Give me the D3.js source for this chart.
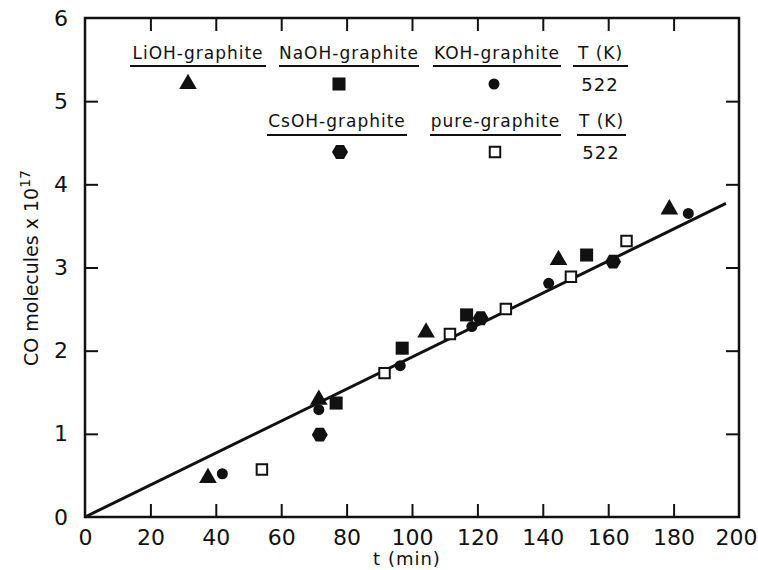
<!DOCTYPE html>
<html>
<head>
<meta charset="utf-8">
<script src="https://cdn.jsdelivr.net/npm/d3@7"></script>
<style>
  body { margin: 0; background: #fff; }
  text { font-family: "DejaVu Sans", sans-serif; fill: #111; }
</style>
</head>
<body>
<div id="target_area"></div>
<script>
// data (t in min, CO molecules x 1e17)
var liohT = [37.6, 71.5, 104.3, 144.8, 178.7];
var liohN = [0.47, 1.41, 2.22, 3.09, 3.70];
var naohT = [76.8, 97.0, 116.7, 153.4];
var naohN = [1.37, 2.03, 2.43, 3.15];
var kohT = [42.0, 71.5, 96.4, 118.3, 141.8, 184.5];
var kohN = [0.52, 1.29, 1.82, 2.29, 2.81, 3.65];
var csohT = [71.8, 121.0, 161.5];
var csohN = [0.99, 2.39, 3.07];
var pureT = [54.1, 91.6, 111.6, 128.7, 148.6, 165.6];
var pureN = [0.57, 1.73, 2.20, 2.50, 2.89, 3.32];

// fitted line
var fitT = [0, 196];
var fitN = [0, 3.77];

var xTicks = [0, 20, 40, 60, 80, 100, 120, 140, 160, 180, 200];
var yTicks = [0, 1, 2, 3, 4, 5, 6];
var legendRow1 = ["LiOH-graphite", "NaOH-graphite", "KOH-graphite", "T (K)"];
var legendRow2 = ["CsOH-graphite", "pure-graphite", "T (K)"];
var tempValue = "522";

var width = 758, height = 570;
var margin = {top: 18, right: 19, bottom: 53, left: 85};

var svg = d3.select("#target_area")
  .append("svg")
  .attr("width", width)
  .attr("height", height);

var x = d3.scaleLinear().domain([0, 200]).range([margin.left, width - margin.right]);
var y = d3.scaleLinear().domain([0, 6]).range([height - margin.bottom, margin.top]);

var inner = xTicks.slice(1, -1);
var innerY = yTicks.slice(1, -1);

// bottom axis with labels, ticks pointing in
var gb = svg.append("g")
  .attr("transform", "translate(0," + y(0) + ")")
  .call(d3.axisBottom(x).tickValues(xTicks).tickFormat(d3.format("d")).tickSize(-13).tickPadding(12));
gb.selectAll(".tick line").filter(function (d) { return d === 0 || d === 200; }).remove();
gb.selectAll(".tick text").filter(function (d) { return d === 200; }).attr("dx", -3);

var gl = svg.append("g")
  .attr("transform", "translate(" + x(0) + ",0)")
  .call(d3.axisLeft(y).tickValues(yTicks).tickFormat(d3.format("d")).tickSize(-13).tickPadding(17));
gl.selectAll(".tick line").filter(function (d) { return d === 0 || d === 6; }).remove();

svg.append("g")
  .attr("transform", "translate(0," + y(6) + ")")
  .call(d3.axisTop(x).tickValues(inner).tickSize(-13).tickFormat(""));
svg.append("g")
  .attr("transform", "translate(" + x(200) + ",0)")
  .call(d3.axisRight(y).tickValues(innerY).tickSize(-13).tickFormat(""));

svg.selectAll(".domain").remove();
svg.selectAll(".tick line").attr("stroke", "#111").attr("stroke-width", 2);
svg.selectAll(".tick text")
  .style("font-size", "22px")
  .style("font-family", "'DejaVu Sans', sans-serif")
  .attr("fill", "#111");

// frame
svg.append("rect")
  .attr("x", x(0)).attr("y", y(6))
  .attr("width", x(200) - x(0)).attr("height", y(0) - y(6))
  .attr("fill", "none").attr("stroke", "#111").attr("stroke-width", 2.5);

// axis titles
svg.append("text")
  .attr("x", (x(0) + x(200)) / 2 - 5)
  .attr("y", 565)
  .attr("text-anchor", "middle")
  .style("font-size", "18px")
  .style("letter-spacing", "1px")
  .text("t (min)");

var yl = svg.append("text")
  .attr("transform", "translate(38," + 268 + ") rotate(-90)")
  .attr("text-anchor", "middle")
  .style("font-size", "19px");
yl.append("tspan").text("CO molecules x 10");
yl.append("tspan").attr("dy", -8).style("font-size", "14px").text("17");

// fit line
var line = d3.line()
  .x(function (d, i) { return x(fitT[i]); })
  .y(function (d, i) { return y(fitN[i]); });
svg.append("path")
  .datum(fitT)
  .attr("d", line)
  .attr("fill", "none")
  .attr("stroke", "#111")
  .attr("stroke-width", 3);

// marker shapes
function hexPath(r) {
  var pts = d3.range(6).map(function (k) {
    var a = Math.PI / 3 * k;
    return [r * Math.cos(a), r * Math.sin(a)];
  });
  return d3.line()(pts) + "Z";
}
var shapes = {
  tri: {d: d3.symbol().type(d3.symbolTriangle).size(135)(), fill: "#111", stroke: "none"},
  sq: {d: d3.symbol().type(d3.symbolSquare).size(170)(), fill: "#111", stroke: "none"},
  dot: {d: d3.symbol().type(d3.symbolCircle).size(95)(), fill: "#111", stroke: "none"},
  hex: {d: hexPath(8), fill: "#111", stroke: "none"},
  open: {d: d3.symbol().type(d3.symbolSquare).size(110)(), fill: "#fff", stroke: "#111"}
};

function drawSeries(ts, ns, shape) {
  var s = shapes[shape];
  svg.append("g").selectAll("path")
    .data(ts)
    .enter().append("path")
    .attr("d", s.d)
    .attr("transform", function (d, i) {
      return "translate(" + x(d) + "," + y(ns[i]) + ")";
    })
    .attr("fill", s.fill)
    .attr("stroke", s.stroke)
    .attr("stroke-width", 2);
}
drawSeries(liohT, liohN, "tri");
drawSeries(naohT, naohN, "sq");
drawSeries(kohT, kohN, "dot");
drawSeries(csohT, csohN, "hex");
drawSeries(pureT, pureN, "open");

// legend
var row1 = [
  {x0: 130, x1: 266, mx: 188, shape: "tri"},
  {x0: 279, x1: 419, mx: 339, shape: "sq"},
  {x0: 433, x1: 561, mx: 494, shape: "dot"},
  {x0: 573, x1: 628, mx: 600, shape: null}
];
var row2 = [
  {x0: 267, x1: 407, mx: 340, shape: "hex"},
  {x0: 430, x1: 561, mx: 495, shape: "open"},
  {x0: 577, x1: 626, mx: 601, shape: null}
];

function drawLegendRow(labels, cols, ty, uy, my) {
  cols.forEach(function (c, i) {
    svg.append("text")
      .attr("x", (c.x0 + c.x1) / 2)
      .attr("y", ty)
      .attr("text-anchor", "middle")
      .style("font-size", "17px")
      .style("letter-spacing", "1px")
      .text(labels[i]);
    svg.append("line")
      .attr("x1", c.x0).attr("x2", c.x1)
      .attr("y1", uy).attr("y2", uy)
      .attr("stroke", "#111").attr("stroke-width", 2);
    if (c.shape) {
      var s = shapes[c.shape];
      svg.append("path")
        .attr("d", s.d)
        .attr("transform", "translate(" + c.mx + "," + my + ")")
        .attr("fill", s.fill)
        .attr("stroke", s.stroke)
        .attr("stroke-width", 2);
    } else {
      svg.append("text")
        .attr("x", c.mx)
        .attr("y", my + 7)
        .attr("text-anchor", "middle")
        .style("font-size", "18px")
        .style("letter-spacing", "1px")
        .text(tempValue);
    }
  });
}
drawLegendRow(legendRow1, row1, 59, 66, 84);
drawLegendRow(legendRow2, row2, 127, 135, 152);
</script>
</body>
</html>
